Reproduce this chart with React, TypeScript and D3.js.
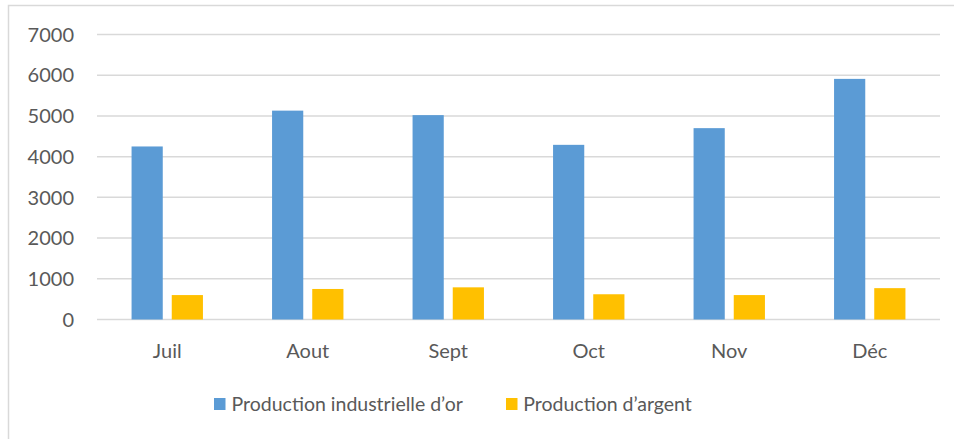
import React from "react";
import * as d3 from "d3";

const categories = ["Juil", "Aout", "Sept", "Oct", "Nov", "Déc"];
const seriesNames = ["Production industrielle d\u2019or", "Production d\u2019argent"];
const goldValues = [4250, 5130, 5020, 4290, 4700, 5910];
const silverValues = [600, 750, 790, 620, 600, 770];
const yTicks = [0, 1000, 2000, 3000, 4000, 5000, 6000, 7000];
const colors = ["#5B9BD5", "#FFC000"];

const W = 954;
const H = 439;
const FONT = "Lato, 'Open Sans', sans-serif";

export default function App() {
  const plotLeft = 97;
  const plotRight = 940;
  const y = d3.scaleLinear().domain([0, 7000]).range([319.5, 34.5]);
  const x0 = d3.scaleBand<string>().domain(categories).range([plotLeft, plotRight]).paddingInner(0).paddingOuter(0);
  const bw = x0.bandwidth();
  const barW = bw * 0.222;
  const gap = bw * 0.064;
  const series = [goldValues, silverValues];

  return (
    <svg width={W} height={H} style={{ position: "absolute", left: 0, top: 0, background: "#fff" }}>
      <rect x={0} y={0} width={W} height={H} fill="#fff" />
      <rect x={8.5} y={5.5} width={970} height={450} fill="none" stroke="#D9D9D9" strokeWidth={1.5} />
      {yTicks.map((t) => (
        <g key={t}>
          <line x1={plotLeft} x2={plotRight} y1={y(t)} y2={y(t)} stroke="#D9D9D9" strokeWidth={1.5} />
          <text x={74} y={y(t)} dy="0.36em" textAnchor="end" fontFamily={FONT} fontSize={20} fill="#595959">
            {t}
          </text>
        </g>
      ))}
      {categories.map((c, i) => {
        const cx = (x0(c) as number) + bw / 2;
        return (
          <g key={c}>
            {series.map((vals, s) => {
              const bx = s === 0 ? cx - gap / 2 - barW : cx + gap / 2;
              return (
                <rect
                  key={s}
                  x={bx}
                  y={y(vals[i])}
                  width={barW}
                  height={y(0) - y(vals[i])}
                  fill={colors[s]}
                />
              );
            })}
            <text x={cx} y={358} textAnchor="middle" fontFamily={FONT} fontSize={20} fill="#595959">
              {c}
            </text>
          </g>
        );
      })}
      <g>
        <rect x={214} y={398} width={11.5} height={12} fill={colors[0]} />
        <text x={231.5} y={411} fontFamily={FONT} fontSize={19.5} fill="#595959">{seriesNames[0]}</text>
        <rect x={506} y={398} width={11.5} height={12} fill={colors[1]} />
        <text x={523.3} y={411} fontFamily={FONT} fontSize={19.5} fill="#595959">{seriesNames[1]}</text>
      </g>
    </svg>
  );
}
